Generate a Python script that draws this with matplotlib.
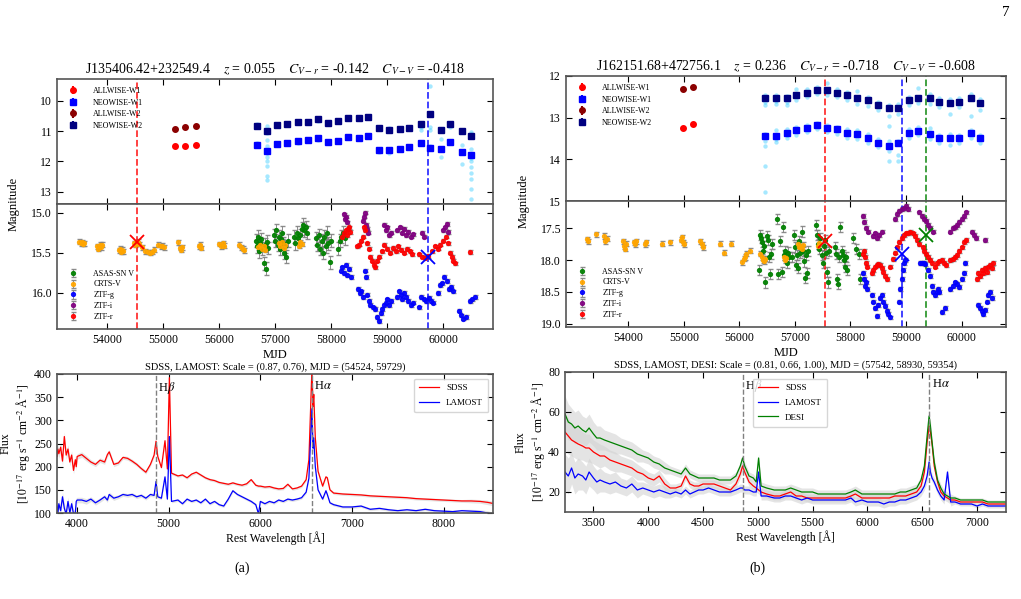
import matplotlib.pyplot as plt

# ---------------- light curve data : J135406.42+232549.4 ----------------
a_allwise_mjd = [55209, 55388, 55585]
a_allwise_w1 = [11.48, 11.49, 11.45]
a_allwise_w2 = [10.92, 10.86, 10.82]

a_neo_mjd = [56668, 56847, 57037, 57216, 57400, 57579, 57769, 57936, 58127, 58299, 58502,
             58662, 58859, 59032, 59228, 59395, 59597, 59764, 59960, 60121, 60330, 60491]
a_neo_w1 = [11.45, 11.66, 11.42, 11.40, 11.33, 11.31, 11.24, 11.36, 11.33, 11.19, 11.22,
            11.15, 11.64, 11.62, 11.60, 11.52, 11.38, 11.57, 11.60, 11.37, 11.69, 11.80]
a_neo_w2 = [10.82, 11.00, 10.80, 10.78, 10.71, 10.69, 10.59, 10.72, 10.67, 10.58, 10.56,
            10.55, 10.91, 10.98, 10.93, 10.89, 10.78, 10.45, 10.97, 10.78, 10.99, 11.16]

# single-epoch NEOWISE points (light blue)
a_raw_mjd = [56668, 56668, 56668, 56847, 56847, 56847, 56847, 56847, 56847, 56847, 56847, 56847, 56847,
             57400, 57769, 57769, 58859, 59032, 59032, 59597, 59597, 59764, 59764, 59764, 59764,
             59960, 59960, 60121, 60330, 60330, 60491, 60491, 60491, 60491, 60491, 60491,
             60491, 60491, 60491, 60491, 60491]
a_raw_mag = [10.76, 11.40, 11.50, 10.82, 11.08, 11.30, 11.50, 11.72, 11.85, 12.00, 12.15, 12.50, 12.63,
             11.38, 10.66, 11.30, 11.70, 10.90, 11.72, 10.88, 10.96, 9.50, 10.85, 10.95, 11.50,
             11.25, 11.85, 10.85, 11.45, 12.10, 11.02, 11.10, 11.60, 11.75, 11.90, 12.00,
             12.20, 12.40, 12.60, 12.90, 13.25]

a_crts_mjd = [53500, 53520, 53540, 53560, 53580, 53820, 53840, 53860, 53880, 53900,
              54200, 54220, 54240, 54260, 54280, 54480, 54500, 54540, 54560,
              54620, 54680, 54720, 54760, 54800, 54840, 54900, 54950, 54980, 55010,
              55270, 55290, 55310, 55340, 55640, 55660, 55680, 56000, 56030, 56060, 56080,
              56360, 56390, 56420, 56450, 56700, 56730, 56760, 56790, 56820,
              57060, 57090, 57120, 57150, 57180, 57420, 57450, 57480]
a_crts_mag = [15.36, 15.38, 15.37, 15.39, 15.38, 15.42, 15.45, 15.40, 15.43, 15.40,
              15.47, 15.45, 15.49, 15.46, 15.48, 15.38, 15.40, 15.36, 15.39,
              15.43, 15.48, 15.49, 15.50, 15.49, 15.46, 15.40, 15.42, 15.41, 15.43,
              15.37, 15.44, 15.46, 15.43, 15.42, 15.40, 15.44, 15.39, 15.42, 15.38, 15.41,
              15.40, 15.43, 15.45, 15.47, 15.43, 15.40, 15.45, 15.42, 15.46,
              15.38, 15.42, 15.36, 15.44, 15.40, 15.41, 15.37, 15.39]

a_asas_mjd = [56650, 56670, 56690, 56710, 56730, 56750, 56770, 56790, 56810, 56830, 56850, 56870,
              56980, 57000, 57020, 57040, 57060, 57080, 57100, 57120, 57140, 57160, 57180, 57200, 57220,
              57330, 57360, 57380, 57410, 57440, 57470, 57500, 57520, 57540, 57560,
              57720, 57750, 57780, 57800, 57830, 57850, 57870, 57900, 57930, 57950, 57970, 57990,
              58120, 58150, 58180, 58210, 58240]
a_asas_mag = [15.35, 15.42, 15.30, 15.48, 15.38, 15.33, 15.45, 15.63, 15.40, 15.70, 15.36, 15.44,
              15.28, 15.35, 15.22, 15.40, 15.30, 15.45, 15.33, 15.25, 15.38, 15.50, 15.42, 15.55, 15.35,
              15.30, 15.38, 15.25, 15.32, 15.28, 15.20, 15.15, 15.22, 15.18, 15.25,
              15.32, 15.40, 15.28, 15.45, 15.35, 15.50, 15.30, 15.42, 15.25, 15.38, 15.62, 15.35,
              15.45, 15.35, 15.30, 15.25, 15.32]

a_ztfr_mjd = [58200, 58230, 58260, 58280, 58300, 58320, 58340,
              58460, 58500, 58540, 58570, 58590, 58610, 58640, 58670,
              58700, 58730, 58760, 58790, 58820, 58850,
              58900, 58950, 59000, 59050, 59100, 59150, 59200, 59250, 59300, 59350, 59400, 59450,
              59570, 59620, 59680, 59720, 59800, 59850, 59900, 59950, 60000, 60050, 60080,
              60120, 60150, 60180, 60210, 60480]
a_ztfr_mag = [15.30, 15.25, 15.22, 15.28, 15.20, 15.18, 15.24,
              15.42, 15.40, 15.35, 15.30, 15.18, 15.22, 15.38, 15.45,
              15.55, 15.60, 15.65, 15.68, 15.60, 15.55,
              15.48, 15.40, 15.45, 15.50, 15.44, 15.48, 15.42, 15.46, 15.50, 15.45, 15.48, 15.52,
              15.52, 15.55, 15.56, 15.54, 15.48, 15.42, 15.45, 15.40, 15.35, 15.30, 15.38,
              15.50, 15.55, 15.60, 15.63, 15.49]

a_ztfi_mjd = [58230, 58250, 58270, 58290, 58560, 58580, 58600, 58620, 58640, 58660,
              58940, 58970, 59000, 59030, 59060, 59180, 59220, 59260, 59300, 59340, 59380, 59420, 59460,
              59620, 59650, 60000, 60030, 60060, 60090]
a_ztfi_mag = [15.02, 15.08, 15.05, 15.12, 15.10, 15.05, 15.00, 15.15, 15.20, 15.25,
              15.15, 15.22, 15.18, 15.28, 15.25, 15.22, 15.18, 15.25, 15.20, 15.28, 15.24, 15.30, 15.27,
              15.25, 15.30, 15.22, 15.18, 15.14, 15.24]

a_ztfg_mjd = [58180, 58200, 58230, 58260, 58290, 58320, 58360,
              58480, 58510, 58540, 58570, 58600, 58620, 58640, 58670, 58700, 58740, 58780,
              58820, 58850, 58880, 58910, 58940, 58970, 59000, 59030, 59060,
              59180, 59210, 59240, 59270, 59300, 59340, 59380, 59420, 59460,
              59560, 59600, 59650, 59700, 59740, 59780, 59820,
              59900, 59940, 59980, 60020, 60060, 60100, 60140, 60180,
              60280, 60320, 60360, 60400, 60480, 60520, 60560]
a_ztfg_mag = [15.72, 15.68, 15.75, 15.65, 15.78, 15.70, 15.80,
              15.95, 16.00, 15.98, 16.05, 15.72, 15.80, 16.02, 16.10, 16.15, 16.18, 16.20,
              16.30, 16.35, 16.25, 16.20, 16.15, 16.12, 16.08, 16.15, 16.10,
              16.05, 15.98, 16.02, 16.08, 16.00, 16.05, 16.10, 16.15, 16.12,
              16.18, 16.05, 16.08, 16.10, 16.06, 16.10, 16.12,
              16.00, 15.90, 15.88, 15.80, 15.85, 15.95, 15.92, 15.98,
              16.22, 16.28, 16.32, 16.30, 16.10, 16.08, 16.05]

a_spec_mjd = [54524, 59729]
a_spec_mag = [15.37, 15.55]

# ---------------- light curve data : J162151.68+472756.1 ----------------
b_allwise_mjd = [54990, 55170]
b_allwise_w1 = [13.25, 13.15]
b_allwise_w2 = [12.30, 12.27]

b_neo_mjd = [56460, 56652, 56850, 57018, 57210, 57390, 57582, 57750, 57942, 58110, 58320,
             58488, 58692, 58860, 59058, 59220, 59430, 59592, 59796, 59958, 60168, 60330]
b_neo_w1 = [13.44, 13.44, 13.36, 13.30, 13.24, 13.18, 13.24, 13.28, 13.36, 13.40, 13.48,
            13.60, 13.68, 13.62, 13.36, 13.32, 13.40, 13.48, 13.48, 13.48, 13.36, 13.49]
b_neo_w2 = [12.54, 12.54, 12.54, 12.45, 12.40, 12.34, 12.34, 12.40, 12.45, 12.52, 12.58,
            12.70, 12.78, 12.78, 12.58, 12.52, 12.53, 12.62, 12.64, 12.62, 12.53, 12.65]

b_raw_mjd = [56460, 56460, 56460, 56460, 56460, 56460, 56460, 56460,
             56652, 56652, 56652, 56652, 56652, 56652, 56850, 56850, 56850, 56850, 56850, 56850,
             57018, 57018, 57018, 57018, 57210, 57210, 57210, 57210, 57390, 57390, 57390, 57390,
             57582, 57582, 57582, 57582, 57750, 57750, 57750, 57750, 57942, 57942, 57942, 57942,
             58110, 58110, 58110, 58110, 58320, 58320, 58320, 58320, 58488, 58488, 58488, 58488,
             58692, 58692, 58692, 58692, 58692, 58692, 58860, 58860, 58860, 58860, 58860,
             59058, 59058, 59058, 59058, 59220, 59220, 59220, 59220, 59430, 59430, 59430, 59430,
             59592, 59592, 59592, 59592, 59796, 59796, 59796, 59796, 59958, 59958, 59958, 59958,
             60168, 60168, 60168, 60168, 60330, 60330, 60330, 60330]
b_raw_mag = [12.45, 12.62, 12.70, 13.38, 13.55, 13.68, 14.17, 14.78,
             12.46, 12.60, 12.68, 13.30, 13.50, 13.58, 12.47, 12.62, 12.70, 13.28, 13.42, 13.48,
             12.30, 12.58, 13.22, 13.42, 12.32, 12.50, 13.18, 13.35, 12.26, 12.44, 13.12, 13.28,
             12.18, 12.45, 13.18, 13.35, 12.30, 12.50, 13.22, 13.38, 12.38, 12.58, 13.28, 13.48,
             12.35, 12.68, 13.30, 13.52, 12.50, 12.72, 13.40, 13.60, 12.62, 12.82, 13.52, 13.70,
             12.70, 12.95, 13.20, 13.55, 13.80, 14.05, 12.68, 12.92, 13.55, 13.90, 14.05,
             12.50, 12.70, 13.28, 13.48, 12.28, 12.65, 13.22, 13.42, 12.42, 12.66, 13.24, 13.52,
             12.52, 12.75, 13.42, 13.60, 12.55, 12.92, 13.40, 13.65, 12.52, 12.75, 13.42, 13.60,
             12.42, 12.96, 13.30, 13.48, 12.55, 12.82, 13.42, 13.60]

b_crts_mjd = [53250, 53280, 53420, 53570, 53590, 53610, 53900, 53920, 53940, 53960,
              54100, 54120, 54140, 54300, 54320, 54600, 54750, 54950, 54970, 54990, 55010,
              55300, 55320, 55340, 55650, 55720, 55850, 56050, 56080, 56100, 56120, 56200,
              56380, 56400, 56420, 56440, 56460, 56800, 56820, 56840,
              57060, 57080, 57100, 57120, 57140, 57420, 57440]
b_crts_mag = [17.67, 17.70, 17.59, 17.62, 17.70, 17.66, 17.70, 17.78, 17.82, 17.74,
              17.72, 17.75, 17.70, 17.75, 17.72, 17.74, 17.72, 17.68, 17.64, 17.72, 17.75,
              17.70, 17.75, 17.80, 17.74, 17.88, 17.74, 18.03, 17.98, 17.95, 17.90, 17.85,
              17.90, 17.95, 18.00, 18.02, 17.98, 17.95, 18.00, 17.97,
              17.75, 17.80, 17.78, 17.82, 17.76, 17.78, 17.73]

b_asas_mjd = [56350, 56370, 56390, 56410, 56430, 56450, 56470, 56490, 56510, 56530, 56550, 56570, 56590,
              56680, 56700, 56730, 56760, 56790, 56810, 56830, 56850, 56870, 56890,
              56950, 56980, 57000, 57020, 57040, 57060, 57080, 57100, 57120, 57140, 57160, 57180,
              57200, 57220, 57240, 57380, 57400, 57420, 57440, 57460, 57480, 57500, 57520, 57540,
              57560, 57580, 57600, 57620, 57720, 57740, 57760, 57780, 57800, 57820, 57840, 57860,
              57880, 57900, 57920, 57940, 58040, 58100, 58150, 58180]
b_asas_mag = [18.15, 17.60, 17.65, 17.72, 17.85, 17.78, 18.35, 17.62, 17.68, 17.95, 18.22, 17.90, 17.75,
              17.35, 18.22, 17.70, 18.18, 17.48, 17.92, 17.85, 18.05, 17.88, 17.95,
              17.95, 17.60, 17.80, 18.08, 17.92, 18.12, 17.70, 17.88, 17.55, 17.85, 18.02, 18.28,
              17.92, 18.20, 17.85, 17.45, 17.60, 17.75, 17.82, 17.65, 17.92, 18.05, 17.78, 17.68,
              17.88, 18.18, 18.35, 17.85, 17.80, 17.90, 18.30, 18.38, 17.95, 17.48, 17.85, 17.92,
              18.00, 18.10, 17.95, 18.15, 17.65, 17.82, 17.90, 18.30]

b_ztfr_mjd = [58220, 58240, 58260, 58280, 58300,
              58380, 58410, 58440, 58470, 58500, 58530, 58560, 58590, 58620, 58650,
              58720, 58760, 58800, 58840, 58880, 58920, 58960, 59000, 59040, 59080, 59120, 59160,
              59200, 59230, 59300, 59330, 59360, 59400, 59430, 59460,
              59520, 59560, 59600, 59640, 59680, 59720, 59800, 59840, 59880, 59920, 59960,
              60000, 60040, 60080, 60280, 60300, 60330, 60360, 60390, 60420, 60450, 60480,
              60510, 60540, 60570]
b_ztfr_mag = [17.90, 17.85, 17.95, 18.05, 18.10,
              18.20, 18.15, 18.10, 18.08, 18.06, 18.08, 18.12, 18.18, 18.25, 18.30,
              18.10, 17.98, 17.88, 17.80, 17.72, 17.65, 17.60, 17.58, 17.57, 17.56, 17.58, 17.62,
              17.68, 17.75, 17.80, 17.85, 17.90, 17.95, 18.00, 18.05,
              18.10, 18.05, 18.02, 18.00, 18.05, 18.08, 18.00, 17.98, 17.95, 17.92, 17.85,
              17.80, 17.72, 17.68, 18.30, 18.20, 18.25, 18.15, 18.20, 18.12, 18.18, 18.10,
              18.08, 18.12, 18.05]

b_ztfg_mjd = [58220, 58240, 58260, 58280, 58300,
              58380, 58410, 58440, 58470, 58500, 58530, 58560, 58590, 58620, 58650, 58680, 58720,
              58880, 58900, 58920, 58940, 58960, 58980, 59260, 59290, 59320, 59350,
              59400, 59430, 59460, 59490, 59520, 59550, 59580, 59600, 59640, 59700,
              59800, 59840, 59880, 59920, 59960, 60000, 60040, 60070,
              60300, 60330, 60360, 60390, 60420, 60450, 60480, 60510, 60540]
b_ztfg_mag = [18.20, 18.30, 18.40, 18.35, 18.45,
              18.55, 18.65, 18.75, 18.88, 18.70, 18.60, 18.55, 18.65, 18.72, 18.80, 18.85, 18.90,
              18.65, 18.45, 18.30, 18.15, 18.05, 18.00, 18.05, 18.04, 18.05, 18.06,
              18.15, 18.25, 18.40, 18.50, 18.55, 18.50, 18.45, 18.50, 18.82, 18.75,
              18.45, 18.40, 18.35, 18.38, 18.42, 18.30, 18.20, 18.05,
              18.70, 18.75, 18.80, 18.85, 18.78, 18.65, 18.55, 18.50, 18.60]

b_ztfi_mjd = [58220, 58250, 58280, 58310, 58400, 58440, 58480, 58520, 58560,
              58800, 58840, 58880, 58920, 58960, 59000, 59040,
              59240, 59280, 59320, 59360, 59400, 59440, 59480,
              59800, 59840, 59880, 59920, 59960, 60000, 60040, 60080,
              60180, 60220, 60260, 60420]
b_ztfi_mag = [17.30, 17.40, 17.50, 17.55, 17.62, 17.58, 17.65, 17.60, 17.55,
              17.35, 17.28, 17.22, 17.20, 17.18, 17.15, 17.20,
              17.25, 17.30, 17.35, 17.38, 17.45, 17.50, 17.55,
              17.55, 17.50, 17.48, 17.45, 17.40, 17.35, 17.30, 17.25,
              17.55, 17.60, 17.65, 17.68]

b_spec_mjd = [57542, 58930, 59354]
b_spec_mag = [17.70, 17.90, 17.60]

mjd_ticks = [54000, 55000, 56000, 57000, 58000, 59000, 60000]

# ---------------- spectra ----------------
wave_a = [3780, 3790, 3800, 3820, 3840, 3860, 3880, 3900, 3920, 3940,
          3960, 3980, 3990, 4000, 4050, 4100, 4150, 4200, 4250, 4300,
          4330, 4350, 4400, 4450, 4500, 4550, 4600, 4650, 4700, 4750,
          4800, 4840, 4861, 4880, 4920, 4959, 4985, 5007, 5030, 5100,
          5150, 5200, 5250, 5300, 5350, 5400, 5450, 5500, 5550, 5600,
          5650, 5700, 5750, 5800, 5850, 5900, 5950, 5980, 6000, 6050,
          6100, 6150, 6200, 6250, 6300, 6350, 6400, 6450, 6500, 6530,
          6563, 6575, 6583, 6600, 6630, 6680, 6716, 6731, 6760, 6800,
          6900, 7000, 7100, 7200, 7300, 7400, 7500, 7600, 7700, 7800,
          7900, 8000, 8100, 8200, 8300, 8400, 8480, 8530]
sdss_a = [222, 238, 228, 242, 212, 265, 225, 238, 210, 225,
          192, 215, 200, 222, 226, 218, 210, 205, 214, 210,
          226, 232, 205, 208, 220, 218, 212, 205, 196, 188,
          205, 225, 255, 222, 198, 256, 195, 392, 186, 180,
          182, 176, 184, 188, 182, 176, 172, 170, 166, 164,
          162, 165, 162, 160, 163, 172, 160, 158, 158, 156,
          157, 154, 152, 153, 162, 152, 154, 158, 172, 215,
          410, 330, 356, 262, 190, 158, 178, 176, 150, 143,
          141, 140, 139, 137, 136, 135, 134, 133, 131, 130,
          129, 128, 127, 126, 126, 125, 123, 121]
lamost_a = [115, 100, 120, 105, 135, 110, 98, 125, 100, 120,
            98, 100, 125, 128, 128, 125, 130, 122, 128, 135,
            128, 140, 132, 135, 140, 138, 140, 135, 138, 132,
            140, 138, 168, 135, 132, 178, 130, 265, 125, 128,
            120, 130, 125, 128, 122, 130, 120, 125, 118, 115,
            130, 148, 140, 135, 130, 125, 118, 98, 125, 120,
            125, 122, 128, 125, 130, 128, 130, 133, 145, 175,
            325, 240, 262, 200, 150, 130, 148, 140, 122, 118,
            113, 113, 115, 108, 110, 107, 105, 107, 105, 108,
            105, 104, 103, 105, 104, 103, 100, 97]
err_a = [10, 10, 10, 10, 10, 10, 9, 9, 9, 9,
         8, 8, 8, 6, 6, 6, 5, 5, 5, 5,
         5, 5, 5, 4, 4, 4, 4, 4, 4, 4,
         4, 4, 4, 4, 3, 3, 3, 4, 3, 3,
         3, 3, 3, 3, 3, 3, 3, 3, 3, 3,
         3, 3, 3, 3, 3, 3, 3, 3, 3, 3,
         3, 3, 3, 3, 3, 3, 3, 3, 3, 3,
         5, 4, 4, 3, 3, 3, 3, 3, 3, 3,
         3, 3, 3, 3, 3, 3, 3, 3, 3, 3,
         3, 3, 3, 3, 4, 4, 5, 5]

wave_b = [3240, 3270, 3300, 3330, 3360, 3400, 3430, 3460, 3500, 3530,
          3560, 3600, 3650, 3700, 3750, 3800, 3850, 3900, 3950, 4000,
          4050, 4100, 4150, 4200, 4250, 4300, 4340, 4380, 4420, 4460,
          4500, 4550, 4600, 4650, 4700, 4750, 4800, 4840, 4861, 4880,
          4920, 4959, 4985, 5007, 5030, 5080, 5150, 5200, 5250, 5300,
          5350, 5400, 5450, 5500, 5550, 5600, 5650, 5700, 5750, 5800,
          5850, 5890, 5950, 6000, 6050, 6100, 6150, 6200, 6250, 6300,
          6350, 6400, 6450, 6490, 6520, 6545, 6563, 6575, 6590, 6610,
          6640, 6670, 6700, 6731, 6760, 6800, 6850, 6900, 6950, 7000,
          7050, 7100, 7150, 7200, 7260]
sdss_b = [50, 48, 46, 45, 44, 43, 42, 42, 40, 39,
          38, 38, 36, 35, 34, 33, 32, 30, 29, 27,
          26, 28, 24, 22, 22, 23, 28, 24, 23, 23,
          24, 24, 24, 23, 22, 21, 24, 29, 33, 30,
          25, 23, 22, 21, 20, 19, 18, 18, 19, 20,
          18, 18, 17, 17, 17, 17, 17, 17, 17, 17,
          18, 19, 17, 17, 17, 17, 17, 17, 18, 18,
          18, 19, 20, 23, 30, 45, 53, 50, 44, 33,
          25, 20, 18, 17, 16, 16, 15, 15, 15, 15,
          15, 14, 14, 14, 14]
lamost_b = [30, 28, 32, 27, 29, 28, 26, 30, 27, 25,
            26, 25, 24, 25, 23, 22, 24, 21, 22, 21,
            20, 21, 20, 19, 20, 19, 21, 19, 20, 21,
            21, 22, 21, 20, 20, 20, 21, 22, 22, 21,
            21, 20, 20, 30, 18, 18, 17, 17, 18, 18,
            17, 16, 17, 16, 16, 16, 16, 16, 16, 16,
            17, 15, 16, 15, 15, 15, 14, 15, 15, 16,
            16, 17, 18, 20, 23, 28, 35, 30, 27, 25,
            21, 18, 16, 30, 15, 15, 14, 14, 14, 13,
            14, 13, 13, 13, 13]
desi_b = [59, 55, 54, 52, 53, 51, 50, 52, 49, 47,
          47, 46, 45, 44, 43, 42, 41, 39, 38, 37,
          35, 34, 32, 31, 30, 29, 32, 29, 28, 27,
          27, 27, 27, 26, 26, 26, 28, 33, 37, 33,
          28, 27, 25, 37, 23, 22, 21, 21, 21, 22,
          21, 20, 20, 20, 19, 19, 19, 19, 19, 19,
          20, 21, 19, 19, 19, 19, 19, 19, 19, 20,
          20, 21, 22, 26, 33, 48, 58, 53, 45, 35,
          26, 22, 19, 18, 17, 17, 16, 16, 16, 16,
          16, 15, 15, 15, 15]
err_b = [9, 9, 8, 8, 8, 7, 7, 7, 6, 6,
         6, 5, 5, 5, 4, 4, 4, 4, 3, 3,
         3, 3, 3, 2, 2, 2, 2, 2, 2, 2,
         2, 2, 2, 2, 2, 2, 2, 2, 2, 2,
         2, 2, 2, 2, 2, 2, 2, 2, 2, 2,
         2, 2, 2, 2, 2, 2, 2, 2, 2, 2,
         2, 2, 2, 2, 2, 2, 2, 2, 2, 2,
         2, 2, 2, 2, 2, 3, 3, 3, 2, 2,
         2, 2, 2, 2, 2, 1, 1, 1, 1, 1,
         1, 1, 1, 1, 1]

plt.rcParams['font.family'] = ['Liberation Serif', 'DejaVu Serif']
plt.rcParams['mathtext.fontset'] = 'stix'
plt.rcParams['xtick.direction'] = 'in'
plt.rcParams['ytick.direction'] = 'in'
plt.rcParams['xtick.top'] = True
plt.rcParams['ytick.right'] = True
plt.rcParams['xtick.labelsize'] = 8.5
plt.rcParams['ytick.labelsize'] = 8.5
plt.rcParams['axes.edgecolor'] = '#555555'
plt.rcParams['axes.linewidth'] = 1.2

W, H = 1021, 599


def box(x0, y0, x1, y1):
    # pixel box (top-left origin) -> figure fraction rect
    return [x0 / W, 1 - y1 / H, (x1 - x0) / W, (y1 - y0) / H]


def wise_panel(ax, allwise_mjd, w1, w2, neo_mjd, n1, n2, raw_mjd, raw_mag):
    ax.scatter(raw_mjd, raw_mag, s=10, color='deepskyblue', alpha=0.35, lw=0, zorder=1)
    ax.errorbar(allwise_mjd, w1, yerr=0.03, fmt='o', color='red', ms=4, label='ALLWISE-W1', zorder=3)
    ax.errorbar(neo_mjd, n1, yerr=0.03, fmt='s', color='blue', ms=4.5, label='NEOWISE-W1', zorder=3)
    ax.errorbar(allwise_mjd, w2, yerr=0.03, fmt='o', color='darkred', ms=4, label='ALLWISE-W2', zorder=3)
    ax.errorbar(neo_mjd, n2, yerr=0.03, fmt='s', color='navy', ms=4.5, label='NEOWISE-W2', zorder=3)
    ax.legend(loc='upper left', frameon=False, fontsize=5.8, labelspacing=0.45,
              handletextpad=1.5, borderaxespad=0.6)
    ax.tick_params(labelbottom=False, length=4)


def optical_panel(ax, sets):
    ekw = dict(fmt='o', ms=2.8, ecolor='gray', elinewidth=0.7, capsize=1.8, alpha=0.9)
    for mjd, mag, err, color, label in sets:
        ax.errorbar(mjd, mag, yerr=err, color=color, label=label, **ekw)
    ax.legend(loc='lower left', frameon=False, fontsize=5.8, labelspacing=0.35,
              handletextpad=1.5, borderaxespad=0.6)
    ax.tick_params(length=4)
    ax.set_xticks(mjd_ticks)
    ax.set_xlabel('MJD', fontsize=9, labelpad=2)


def spec_panel(ax, wave, fluxes, err, colors, labels, label_x):
    for flux in fluxes:
        lo = [f - e for f, e in zip(flux, err)]
        hi = [f + e for f, e in zip(flux, err)]
        ax.fill_between(wave, lo, hi, color='lightgray', alpha=0.6, lw=0, zorder=1)
    for flux, color, label in zip(fluxes, colors, labels):
        ax.plot(wave, flux, color=color, lw=0.9, label=label, zorder=2)
    ax.axvline(4861, color='gray', ls='--', lw=1)
    ax.axvline(6563, color='gray', ls='--', lw=1)
    ax.set_xlabel('Rest Wavelength [Å]', fontsize=8.5, labelpad=1)
    ax.set_ylabel('Flux\n[$10^{-17}$ erg s$^{-1}$ cm$^{-2}$ Å$^{-1}$]', fontsize=8.5)
    ax.yaxis.set_label_coords(label_x, 0.5)
    ax.tick_params(length=4)


fig = plt.figure(figsize=(W / 100, H / 100), dpi=100)

# ---------------- panel (a) ----------------
ax1 = fig.add_axes(box(57, 79, 493, 204))
ax2 = fig.add_axes(box(57, 204, 493, 329), sharex=ax1)
ax3 = fig.add_axes(box(57, 374, 493, 513))

wise_panel(ax1, a_allwise_mjd, a_allwise_w1, a_allwise_w2, a_neo_mjd, a_neo_w1, a_neo_w2,
           a_raw_mjd, a_raw_mag)
ax1.set_ylim(13.41, 9.28)
ax1.set_yticks([10, 11, 12, 13])
ax1.set_title('J135406.42+232549.4    $z$ = 0.055    $C_{V-r}$ = -0.142    $C_{V-V}$ = -0.418',
              fontsize=10, pad=4)

optical_panel(ax2, [(a_asas_mjd, a_asas_mag, 0.08, 'green', 'ASAS-SN V'),
                    (a_crts_mjd, a_crts_mag, 0.03, 'orange', 'CRTS-V'),
                    (a_ztfg_mjd, a_ztfg_mag, 0.02, 'blue', 'ZTF-g'),
                    (a_ztfi_mjd, a_ztfi_mag, 0.02, 'purple', 'ZTF-i'),
                    (a_ztfr_mjd, a_ztfr_mag, 0.02, 'red', 'ZTF-r')])
ax2.set_ylim(16.45, 14.89)
ax2.set_yticks([15.0, 15.5, 16.0])
ax2.set_xlim(53100, 60890)
for ax in (ax1, ax2):
    ax.axvline(a_spec_mjd[0], color='red', ls='--', lw=1.3, alpha=0.8)
    ax.axvline(a_spec_mjd[1], color='blue', ls='--', lw=1.3, alpha=0.8)
ax2.plot(a_spec_mjd[0], a_spec_mag[0], 'x', color='red', ms=10, mew=1.3, zorder=5)
ax2.plot(a_spec_mjd[1], a_spec_mag[1], 'x', color='blue', ms=10, mew=1.3, zorder=5)

spec_panel(ax3, wave_a, [sdss_a, lamost_a], err_a, ['red', 'blue'], ['SDSS', 'LAMOST'], -0.058)
ax3.set_xlim(3780, 8540)
ax3.set_ylim(100, 400)
ax3.set_yticks([100, 150, 200, 250, 300, 350, 400])
ax3.text(4861 + 25, 388, r'H$\beta$', fontsize=9, va='top')
ax3.text(6563 + 25, 388, r'H$\alpha$', fontsize=9, va='top')
ax3.legend(loc='upper right', fontsize=6.5, handlelength=2.2, borderpad=0.6, labelspacing=0.7)
ax3.set_title('SDSS, LAMOST: Scale = (0.87, 0.76), MJD = (54524, 59729)', fontsize=7.5, pad=3)

# ---------------- panel (b) ----------------
bx1 = fig.add_axes(box(566, 76, 1006, 201))
bx2 = fig.add_axes(box(566, 201, 1006, 327), sharex=bx1)
bx3 = fig.add_axes(box(565, 372, 1006, 512))

wise_panel(bx1, b_allwise_mjd, b_allwise_w1, b_allwise_w2, b_neo_mjd, b_neo_w1, b_neo_w2,
           b_raw_mjd, b_raw_mag)
bx1.set_ylim(15, 12)
bx1.set_yticks([12, 13, 14, 15])
bx1.set_title('J162151.68+472756.1    $z$ = 0.236    $C_{V-r}$ = -0.718    $C_{V-V}$ = -0.608',
              fontsize=10, pad=4)

optical_panel(bx2, [(b_asas_mjd, b_asas_mag, 0.08, 'green', 'ASAS-SN V'),
                    (b_crts_mjd, b_crts_mag, 0.04, 'orange', 'CRTS-V'),
                    (b_ztfg_mjd, b_ztfg_mag, 0.03, 'blue', 'ZTF-g'),
                    (b_ztfi_mjd, b_ztfi_mag, 0.03, 'purple', 'ZTF-i'),
                    (b_ztfr_mjd, b_ztfr_mag, 0.03, 'red', 'ZTF-r')])
bx2.set_ylim(19.05, 17.07)
bx2.set_yticks([17.5, 18.0, 18.5, 19.0])
bx2.set_xlim(52880, 60800)
for ax in (bx1, bx2):
    for m, c in zip(b_spec_mjd, ['red', 'blue', 'green']):
        ax.axvline(m, color=c, ls='--', lw=1.3, alpha=0.8)
for m, mag, c in zip(b_spec_mjd, b_spec_mag, ['red', 'blue', 'green']):
    bx2.plot(m, mag, 'x', color=c, ms=10, mew=1.3, zorder=5)

spec_panel(bx3, wave_b, [sdss_b, lamost_b, desi_b], err_b, ['red', 'blue', 'green'],
           ['SDSS', 'LAMOST', 'DESI'], -0.04)
bx3.set_xlim(3240, 7265)
bx3.set_ylim(10, 80)
bx3.set_yticks([20, 40, 60, 80])
bx3.text(4861 + 25, 77, r'H$\beta$', fontsize=9, va='top')
bx3.text(6563 + 25, 77, r'H$\alpha$', fontsize=9, va='top')
bx3.legend(loc='upper left', bbox_to_anchor=(0.415, 0.985), fontsize=6.5, handlelength=2.2,
           borderpad=0.6, labelspacing=0.7)
bx3.set_title('SDSS, LAMOST, DESI: Scale = (0.81, 0.66, 1.00), MJD = (57542, 58930, 59354)',
              fontsize=7.5, pad=3)

# shared labels, captions, page number
fig.text(14 / W, 1 - 204 / H, 'Magnitude', rotation=90, ha='center', va='center', fontsize=9)
fig.text(524 / W, 1 - 201 / H, 'Magnitude', rotation=90, ha='center', va='center', fontsize=9)
fig.text(242 / W, 1 - 568 / H, '(a)', ha='center', va='center', fontsize=10)
fig.text(757 / W, 1 - 568 / H, '(b)', ha='center', va='center', fontsize=10)
fig.text(1006 / W, 1 - 13 / H, '7', ha='center', va='center', fontsize=11)

fig.savefig('out.png', dpi=100)
